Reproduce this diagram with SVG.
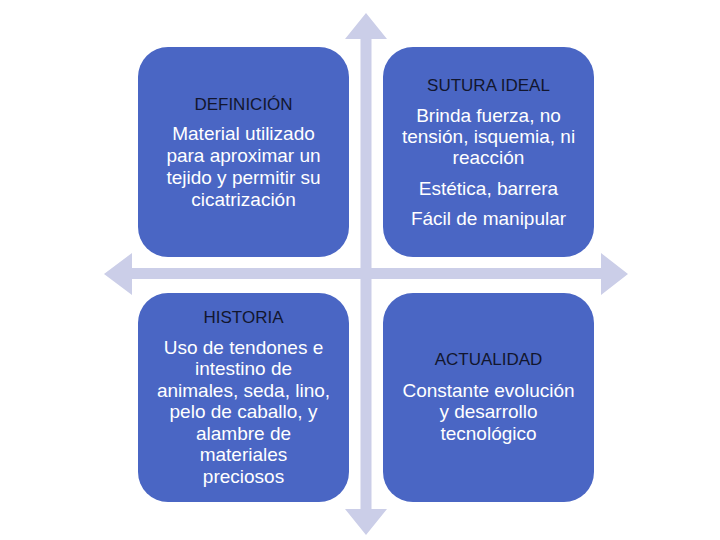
<svg xmlns="http://www.w3.org/2000/svg" width="720" height="540" viewBox="0 0 720 540">
  <style>
    .box { fill: #4a66c4; }
    .arrow { fill: #cbcee8; }
    .h { font-family: "Liberation Sans", Arial, sans-serif; font-size: 17px; fill: #12162e; text-anchor: middle; }
    .b { font-family: "Liberation Sans", Arial, sans-serif; font-size: 19px; fill: #ffffff; text-anchor: middle; }
  </style>
  <rect width="720" height="540" fill="#ffffff"/>
  <g id="connectors">
    <path class="arrow" d="M366,13 L387,39 L371.5,39 L371.5,268 L601,268 L601,253 L628,274 L601,295 L601,279 L371.5,279 L371.5,509 L387,509 L366,535 L345,509 L360.5,509 L360.5,279 L132,279 L132,295 L104,274 L132,253 L132,268 L360.5,268 L360.5,39 L345,39 Z"/>
  </g>
  <g id="definicion">
    <rect class="box" x="138" y="47" width="211" height="210" rx="30" ry="30"/>
    <text class="h" x="243.5" y="110">DEFINICIÓN</text>
    <text class="b" x="243.5" y="140">Material utilizado</text>
    <text class="b" x="243.5" y="162">para aproximar un</text>
    <text class="b" x="243.5" y="184">tejido y permitir su</text>
    <text class="b" x="243.5" y="206">cicatrización</text>
  </g>
  <g id="sutura-ideal">
    <rect class="box" x="383" y="47" width="211" height="210" rx="30" ry="30"/>
    <text class="h" x="488.5" y="91">SUTURA IDEAL</text>
    <text class="b" x="488.5" y="122">Brinda fuerza, no</text>
    <text class="b" x="488.5" y="143">tensión, isquemia, ni</text>
    <text class="b" x="488.5" y="164">reacción</text>
    <text class="b" x="488.5" y="195">Estética, barrera</text>
    <text class="b" x="488.5" y="225">Fácil de manipular</text>
  </g>
  <g id="historia">
    <rect class="box" x="138" y="293" width="211" height="209" rx="30" ry="30"/>
    <text class="h" x="243.5" y="323">HISTORIA</text>
    <text class="b" x="243.5" y="354">Uso de tendones e</text>
    <text class="b" x="243.5" y="375">intestino de</text>
    <text class="b" x="243.5" y="397">animales, seda, lino,</text>
    <text class="b" x="243.5" y="418">pelo de caballo, y</text>
    <text class="b" x="243.5" y="440">alambre de</text>
    <text class="b" x="243.5" y="461">materiales</text>
    <text class="b" x="243.5" y="483">preciosos</text>
  </g>
  <g id="actualidad">
    <rect class="box" x="383" y="293" width="211" height="209" rx="30" ry="30"/>
    <text class="h" x="488.5" y="365">ACTUALIDAD</text>
    <text class="b" x="488.5" y="397">Constante evolución</text>
    <text class="b" x="488.5" y="418">y desarrollo</text>
    <text class="b" x="488.5" y="440">tecnológico</text>
  </g>
</svg>
